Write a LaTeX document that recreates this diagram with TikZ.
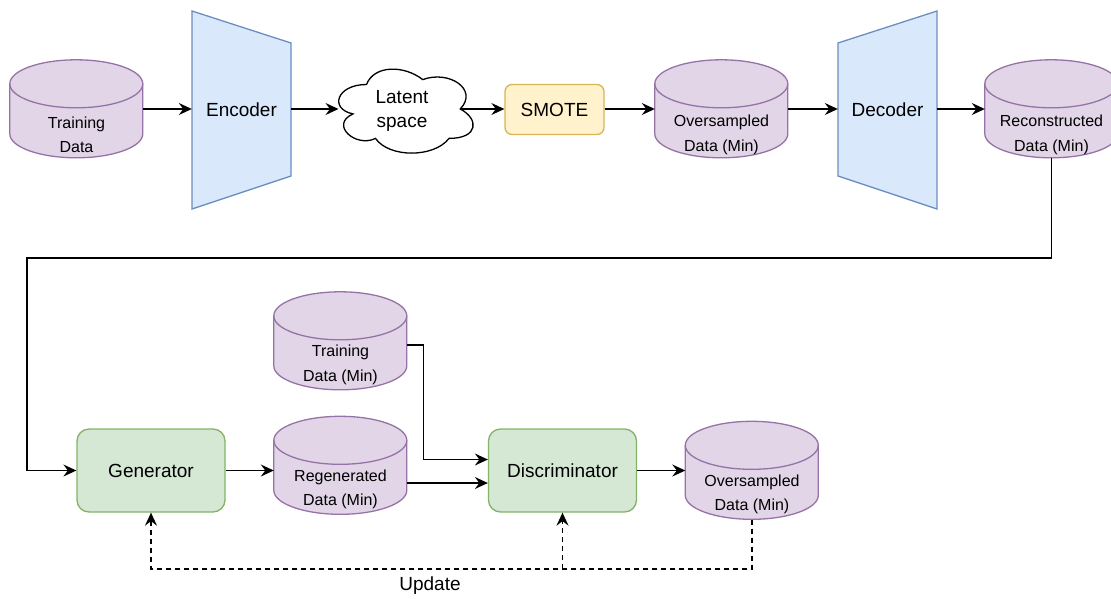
\documentclass[tikz,border=0pt]{standalone}
\usepackage{fontspec}
\setmainfont{Liberation Sans}
\usetikzlibrary{arrows.meta}
\definecolor{cylfill}{HTML}{E1D5E7}
\definecolor{cyldraw}{HTML}{9673A6}
\definecolor{encfill}{HTML}{DAE8FC}
\definecolor{encdraw}{HTML}{6C8EBF}
\definecolor{genfill}{HTML}{D5E8D4}
\definecolor{gendraw}{HTML}{82B366}
\definecolor{smfill}{HTML}{FFF2CC}
\definecolor{smdraw}{HTML}{D6B656}
% name, cx, cy, text, text offset
\newcommand\dbcyl[5]{%
  \node[inner sep=0pt, minimum width=133pt, minimum height=98pt] (#1) at (#2,#3) {};
  \path[cylshape] (#1.north west) ++(0,24) -- ++(0,50)
     arc[start angle=180, end angle=0, x radius=66.5, y radius=24]
     -- ++(0,-50)
     arc[start angle=0, end angle=-180, x radius=66.5, y radius=24] -- cycle;
  \draw[cylline] (#1.north west) ++(0,24)
     arc[start angle=180, end angle=0, x radius=66.5, y radius=24];
  \node[small] (#1-t) at (#2,#3+#5) {#4};
}
\begin{document}
\begin{tikzpicture}[x=1pt,y=-1pt,
  big/.style={font=\fontsize{19}{24.5}\selectfont, align=center, inner sep=0pt},
  small/.style={font=\fontsize{16}{24.5}\selectfont, align=center, inner sep=0pt},
  cylshape/.style={fill=cylfill, draw=cyldraw, line width=1.3pt},
  cylline/.style={draw=cyldraw, line width=1.3pt},
  trap/.style={fill=encfill, draw=encdraw, line width=1.3pt},
  gbox/.style={fill=genfill, draw=gendraw, line width=1.3pt, rounded corners=12pt,
     minimum width=148pt, minimum height=83pt, inner sep=0pt, font=\fontsize{19}{24}\selectfont},
  sbox/.style={fill=smfill, draw=smdraw, line width=1.3pt, rounded corners=7pt,
     minimum width=99pt, minimum height=50pt, inner sep=0pt, font=\fontsize{19}{24}\selectfont},
  conn/.style={line width=1.35pt, -{Stealth[length=13pt,width=12pt,inset=4.5pt]}},
  dsh/.style={dash pattern=on 5pt off 4pt}
]
\useasboundingbox (0,0) rectangle (1111,598);

% top row
\dbcyl{tdata}{76.5}{109}{Training\\Data}{26}

\node[inner sep=0pt, minimum width=99pt, minimum height=198pt] (enc) at (241.5,110) {};
\path[trap] (192,11) -- (291,43) -- (291,176) -- (192,209) -- cycle;
\node[big] (enc-t) at (enc) {Encoder};

\draw[line width=1.3pt, fill=white]
  (366.5,84.5) .. controls (336.5,84.5) and (329,109) .. (353,113.9)
  .. controls (329,124.7) and (356,148.2) .. (375.5,138.4)
  .. controls (389,158) and (434,158) .. (449,138.4)
  .. controls (479,138.4) and (479,118.8) .. (460.25,109)
  .. controls (479,89.4) and (449,69.8) .. (422.75,79.6)
  .. controls (404,64.9) and (374,64.9) .. (366.5,84.5) -- cycle;
\coordinate (cloudL) at (338.5,109);
\coordinate (cloudR) at (460.5,109);
\node[big] (latent) at (402,111) {Latent\\space};

\node[sbox] (smote) at (554.5,109.5) {SMOTE};

\dbcyl{oversA}{721.5}{109}{Oversampled\\Data (Min)}{26}

\node[inner sep=0pt, minimum width=99pt, minimum height=198pt] (dec) at (887.5,110) {};
\path[trap] (838,43) -- (937,11) -- (937,209) -- (838,176) -- cycle;
\node[big] (dec-t) at (dec) {Decoder};

\dbcyl{recon}{1051.5}{109}{Reconstructed\\Data (Min)}{26}

% bottom row
\node[gbox] (gen) at (151,470.5) {Generator};
\dbcyl{tmin}{340.5}{341}{Training\\Data (Min)}{24}
\dbcyl{regen}{340.5}{465.5}{Regenerated\\Data (Min)}{24}
\node[gbox] (disc) at (562.5,470.5) {Discriminator};
\dbcyl{oversB}{752}{470.5}{Oversampled\\Data (Min)}{24}

% connectors top
\draw[conn] (tdata.east) -- (tdata.east -| enc.west);
\draw[conn] (tdata.east -| enc.east) -- (cloudL);
\draw[conn] (cloudR) -- (cloudR -| smote.west);
\draw[conn] (cloudR -| smote.east) -- (cloudR -| oversA.west);
\draw[conn] (oversA.east) -- (oversA.east -| dec.west);
\draw[conn] (oversA.east -| dec.east) -- (recon.west);

% long connector
\coordinate (b1) at (1051.5,258);
\coordinate (b2) at (27,258);
\draw[conn] (recon.south) -- (b1) -- (b2) |- (gen.west);

% bottom connectors
\draw[conn] (gen.east) -- (gen.east -| regen.west);
\coordinate (tminout) at ([yshift=-4pt]tmin.east);
\coordinate (din1) at ([yshift=11pt]disc.west);
\coordinate (din2) at ([yshift=-12.5pt]disc.west);
\draw[conn] (tminout) -- ++(16.5,0) |- (din1);
\draw[conn] (din2 -| regen.east) -- (din2);
\draw[conn] (disc.east) -- (oversB.west);

% update loop
\coordinate (uline) at (0,569);
\draw[conn, dsh] (oversB.south) -- (oversB.south |- uline) -- (gen.south |- uline) -- (gen.south);
\draw[conn, dsh] (disc.south |- uline) -- (disc.south);
\node[font=\fontsize{19}{24}\selectfont, inner sep=0pt] (upd) at (430,586) {Update};
\end{tikzpicture}
\end{document}
